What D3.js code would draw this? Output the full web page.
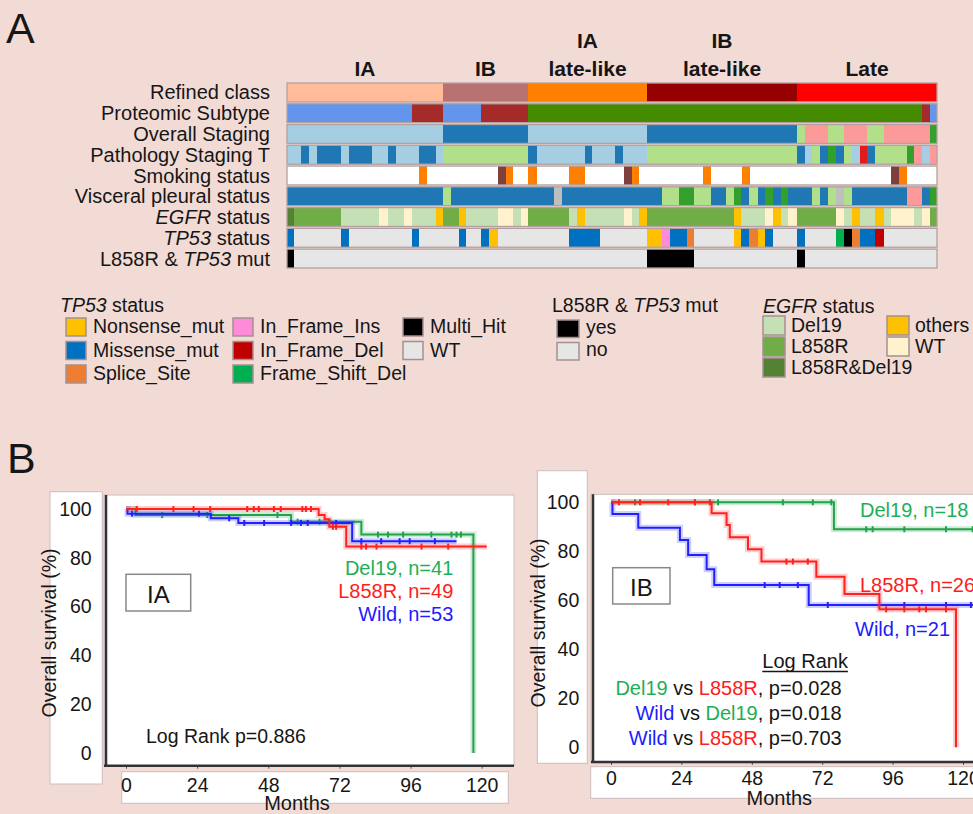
<!DOCTYPE html>
<html>
<head>
<meta charset="utf-8">
<script src="https://cdn.jsdelivr.net/npm/d3@7"></script>
<style>
  body { margin: 0; background: #f2dbd5; }
  svg { display: block; font-family: "Liberation Sans", Arial, sans-serif; }
</style>
</head>
<body>
<div id="chart"></div>
<script>
// ---------- panel A: heatmap rows, run-length encoded as [category, columns]
const rowLabels = ["Refined class", "Proteomic Subtype", "Overall Staging", "Pathology Staging T",
  "Smoking status", "Visceral pleural status", "EGFR status", "TP53 status", "L858R & TP53 mut"];

const refinedRuns = [["IA", 156], ["IB", 85], ["IA late-like", 119], ["IB late-like", 150], ["Late", 140]];
const proteomicRuns = [["S-I", 125], ["S-II", 31], ["S-I", 38], ["S-II", 47], ["S-III", 394], ["S-II", 8], ["S-I", 7]];
const stagingRuns = [["IA", 156], ["IB", 85], ["IA", 119], ["IB", 150], ["IIA", 8], ["IIIA", 23], ["IIA", 16],
  ["IIIA", 23], ["IIA", 17], ["IIIA", 46], ["IIB", 7]];
const pathTRuns = [["T1a", 14], ["T1b", 8], ["T1a", 8], ["T1b", 24], ["T1a", 8], ["T1b", 23], ["T1a", 16], ["T1b", 8],
  ["T1a", 23], ["T1b", 17], ["T1a", 7], ["T2a", 85], ["T1b", 9], ["T1a", 48], ["T1b", 7], ["T1a", 23], ["T1b", 8],
  ["T1a", 24], ["T2a", 150], ["T1b", 8], ["T1a", 7], ["T2a", 8], ["T1b", 8], ["T2b", 8], ["T1b", 8], ["T2a", 8],
  ["T1a", 8], ["T4", 7], ["T1b", 8], ["T2a", 32], ["T2b", 7], ["T3", 8], ["T1a", 8], ["T3", 7]];
const smokingRuns = [["Never", 132], ["Former", 8], ["Never", 71], ["Current", 8], ["Former", 7], ["Never", 15],
  ["Former", 9], ["Never", 32], ["Former", 16], ["Never", 39], ["Current", 8], ["Former", 7], ["Never", 64],
  ["Former", 8], ["Never", 31], ["Former", 8], ["Never", 141], ["Current", 8], ["Former", 8], ["Never", 30]];
const visceralRuns = [["PL0", 156], ["PL1", 8], ["PL0", 103], ["NA", 8], ["PL0", 100], ["PL1", 17], ["PL2", 15],
  ["PL1", 17], ["PL0", 15], ["PL1", 8], ["PL2", 7], ["PL0", 8], ["PL1", 9], ["PL0", 7], ["PL2", 8], ["PL0", 8],
  ["PL2", 7], ["PL0", 24], ["PL1", 8], ["PL0", 8], ["PL1", 8], ["NA", 8], ["PL1", 8], ["PL0", 55], ["PL3", 15],
  ["PL0", 8], ["PL2", 7]];
const egfrRuns = [["L858R&Del19", 7], ["L858R", 47], ["Del19", 38], ["WT", 9], ["Del19", 16], ["WT", 8], ["Del19", 24],
  ["others", 7], ["L858R", 16], ["others", 7], ["Del19", 32], ["WT", 15], ["Del19", 8], ["WT", 7], ["L858R", 41],
  ["Del19", 8], ["others", 8], ["Del19", 39], ["WT", 8], ["Del19", 7], ["others", 8], ["L858R", 87], ["others", 7],
  ["Del19", 24], ["WT", 8], ["others", 8], ["Del19", 7], ["WT", 9], ["L858R", 39], ["WT", 8], ["Del19", 8],
  ["others", 8], ["Del19", 15], ["others", 9], ["Del19", 7], ["WT", 23], ["Del19", 8], ["WT", 8], ["L858R", 7]];
const tp53Runs = [["Missense_mut", 7], ["WT", 47], ["Missense_mut", 8], ["WT", 63], ["Missense_mut", 7], ["WT", 40],
  ["Missense_mut", 7], ["WT", 15], ["Missense_mut", 8], ["Nonsense_mut", 9], ["WT", 71], ["Missense_mut", 31],
  ["WT", 47], ["Nonsense_mut", 15], ["In_Frame_Ins", 8], ["Missense_mut", 17], ["Splice_Site", 7], ["WT", 40],
  ["Nonsense_mut", 7], ["Missense_mut", 8], ["Splice_Site", 9], ["Nonsense_mut", 7], ["Missense_mut", 8], ["WT", 24],
  ["Missense_mut", 8], ["WT", 31], ["Frame_Shift_Del", 8], ["Multi_Hit", 8], ["Splice_Site", 8], ["Missense_mut", 15],
  ["In_Frame_Del", 9], ["WT", 53]];
const dualRuns = [["yes", 7], ["no", 353], ["yes", 47], ["no", 103], ["yes", 8], ["no", 132]];

// legend entries
const tp53Legend = ["Nonsense_mut", "Missense_mut", "Splice_Site", "In_Frame_Ins", "In_Frame_Del", "Frame_Shift_Del", "Multi_Hit", "WT"];
const dualLegend = ["yes", "no"];
const egfrLegend = ["Del19", "L858R", "L858R&Del19", "others", "WT"];

// ---------- panel B: Kaplan-Meier curves, [months, survival %]
const groupNames = ["Del19", "L858R", "Wild"];
const iaCounts = [41, 49, 53];
const ibCounts = [18, 26, 21];
const iaLogRankP = 0.886;
const ibLogRank = [["Del19", "L858R", 0.028], ["Wild", "Del19", 0.018], ["Wild", "L858R", 0.703]];
const monthTicks = [0, 24, 48, 72, 96, 120];
const survivalTicks = [0, 20, 40, 60, 80, 100];

const iaDel19 = [[0, 100], [3.2, 97.5], [55.7, 94.8], [79.4, 89.5], [117.2, 0]];
const iaDel19Censor = [12.2, 27.4, 51.1, 57.9, 65.3, 68.6, 85, 88.4, 93.5, 103, 109.8, 111.5, 113];
const iaL858R = [[0, 100], [65, 97.5], [67, 95.8], [68.6, 92.7], [74.3, 84.6], [121.7, 84.6]];
const iaL858RCensor = [3.6, 16, 22.8, 28.4, 40.9, 43.1, 44.8, 49.9, 52.2, 59.5, 60.7, 62.4, 69.8, 70.9, 79.4, 81, 84.5, 99.7, 108.7];
const iaWild = [[0, 100], [0.5, 98.1], [28.6, 96.2], [37.9, 94.3], [76.3, 86.8], [111.5, 86.8]];
const iaWildCensor = [2, 24.6, 34.8, 39.9, 46.6, 55.7, 59, 61.3, 70.9, 79.4, 86.1, 92.3, 95.7, 104.2];

const ibDel19 = [[0, 100], [76, 89], [126, 89]];
const ibDel19Censor = [8.2, 28.6, 36.5, 58.6, 68.8, 75.1, 87, 89.2, 100, 114.2, 123.3];
const ibL858R = [[0, 100], [34.3, 95.5], [39.4, 90.7], [40.5, 85.7], [46.7, 80.8], [51.3, 75.8], [70, 69.6],
  [79.6, 62.6], [91.5, 56.3], [117.6, 0]];
const ibL858RCensor = [2.7, 9.9, 19.5, 28.6, 33.7, 59.8, 62, 67.1, 93.8, 100, 105.1, 107.4, 114.2];
const ibWild = [[0, 100], [0.5, 95.2], [9.3, 89.6], [23.5, 84.6], [26.3, 78.5], [32.6, 72.7], [35.2, 66.2],
  [67.4, 58.1], [126, 58.1]];
const ibWildCensor = [52.4, 57.5, 63.7, 73.9, 100, 114.2, 122.7];

// ---------- colours
const refinedColors = { "IA": "#ffbb9a", "IB": "#b87272", "IA late-like": "#ff7f00", "IB late-like": "#960000", "Late": "#ff0000" };
const proteomicColors = { "S-I": "#6495ed", "S-II": "#a52a2a", "S-III": "#458b00" };
const stageColors = { IA: "#a6cee3", IB: "#1f78b4", IIA: "#b2df8a", IIB: "#33a02c", IIIA: "#fb9a99" };
const pathTColors = { T1a: "#a6cee3", T1b: "#1f78b4", T2a: "#b2df8a", T2b: "#33a02c", T3: "#fb9a99", T4: "#e31a1c" };
const smokingColors = { Never: "#ffffff", Former: "#ff7f00", Current: "#7f3f3f" };
const visceralColors = { PL0: "#1f78b4", PL1: "#b2df8a", PL2: "#33a02c", PL3: "#fb9a99", NA: "#bebebe" };
const egfrColors = { "Del19": "#c5e0b4", "L858R": "#70ad47", "L858R&Del19": "#548235", "others": "#ffc000", "WT": "#fff2cc" };
const tp53Colors = { "Nonsense_mut": "#ffc000", "Missense_mut": "#0070c0", "Splice_Site": "#ed7d31", "In_Frame_Ins": "#ff8ad8",
  "In_Frame_Del": "#c00000", "Frame_Shift_Del": "#00b050", "Multi_Hit": "#000000", "WT": "#e6e6e6" };
const dualColors = { yes: "#000000", no: "#e6e6e6" };
const lineColors = { Del19: "#22a34a", L858R: "#ff2020", Wild: "#2020ff" };
const textColors = { Del19: "#1fae55", L858R: "#ff1c1c", Wild: "#1c1cff" };

const rows = [
  [refinedRuns, refinedColors], [proteomicRuns, proteomicColors], [stagingRuns, stageColors],
  [pathTRuns, pathTColors], [smokingRuns, smokingColors], [visceralRuns, visceralColors],
  [egfrRuns, egfrColors], [tp53Runs, tp53Colors], [dualRuns, dualColors]
];

const width = 973, height = 814;
const ink = "#161616";
const svg = d3.select("#chart").append("svg").attr("width", width).attr("height", height);
svg.append("rect").attr("width", width).attr("height", height).attr("fill", "#f2dbd5");

// italic gene names inside a label
function richText(sel, str) {
  str.split(/(EGFR|TP53)/).filter(s => s).forEach(s => {
    sel.append("tspan").text(s).attr("font-style", /^(EGFR|TP53)$/.test(s) ? "italic" : null);
  });
}

// panel letters
svg.append("text").attr("x", 6).attr("y", 43).attr("font-size", 43).attr("fill", ink).text("A");
svg.append("text").attr("x", 7).attr("y", 473).attr("font-size", 43).attr("fill", ink).text("B");

// ---------- heatmap
const hx = d3.scaleLinear().domain([0, d3.sum(refinedRuns, d => d[1])]).range([287, 937]);
const hy = d3.scaleBand().domain(rowLabels).range([83, 268]).paddingInner(0.09);

function withStarts(runs) {
  let acc = 0;
  return runs.map(([cat, n]) => { const r = { cat, start: acc, end: acc + n }; acc += n; return r; });
}

rows.forEach(([runs, colors], i) => {
  const g = svg.append("g").attr("transform", `translate(0,${hy(rowLabels[i])})`);
  g.selectAll("rect.cell")
    .data(withStarts(runs))
    .join("rect")
    .attr("class", "cell")
    .attr("x", d => hx(d.start))
    .attr("width", d => hx(d.end) - hx(d.start))
    .attr("height", hy.bandwidth())
    .attr("fill", d => colors[d.cat]);
  g.append("rect")
    .attr("x", hx(0)).attr("width", hx.range()[1] - hx(0)).attr("height", hy.bandwidth())
    .attr("fill", "none").attr("stroke", "#b3a0a0").attr("stroke-width", 1.3);
});

// row labels
svg.selectAll("text.rowlab")
  .data(rowLabels)
  .join("text")
  .attr("class", "rowlab")
  .attr("x", 270)
  .attr("y", d => hy(d) + hy.bandwidth() / 2 + 7)
  .attr("text-anchor", "end")
  .attr("font-size", 20)
  .attr("fill", ink)
  .each(function (d) { richText(d3.select(this), d); });

// class headers over the refined class row
withStarts(refinedRuns).forEach(d => {
  const lines = d.cat.split(" ");
  const cx = hx((d.start + d.end) / 2);
  lines.forEach((ln, j) => {
    svg.append("text")
      .attr("x", cx)
      .attr("y", 76 - (lines.length - 1 - j) * 28.5)
      .attr("text-anchor", "middle")
      .attr("font-size", 21).attr("font-weight", "bold").attr("fill", ink)
      .text(ln);
  });
});

// ---------- legends
function legendBlock(title, tx, ty, items, colors, cols, sw, sh, step, textDx, textDy) {
  const g = svg.append("g");
  const t = g.append("text").attr("x", tx).attr("y", ty).attr("font-size", 19.5).attr("fill", ink);
  richText(t, title);
  cols.forEach(([cx, top, names]) => {
    names.forEach((name, k) => {
      g.append("rect")
        .attr("x", cx).attr("y", top + k * step).attr("width", sw).attr("height", sh)
        .attr("fill", colors[name]).attr("stroke", "#a39191").attr("stroke-width", 1.5);
      g.append("text")
        .attr("x", cx + textDx).attr("y", top + k * step + textDy)
        .attr("font-size", 19.5).attr("fill", ink).text(name);
    });
  });
}

legendBlock("TP53 status", 60, 312, tp53Legend, tp53Colors,
  [[66, 318, tp53Legend.slice(0, 3)], [233, 318, tp53Legend.slice(3, 6)], [403, 318, tp53Legend.slice(6)]],
  20, 18, 23.5, 27, 15);
legendBlock("L858R & TP53 mut", 552, 312, dualLegend, dualColors,
  [[557, 320, dualLegend]], 22, 17.5, 22.5, 29, 13.5);
legendBlock("EGFR status", 763, 313, egfrLegend, egfrColors,
  [[763, 316, egfrLegend.slice(0, 3)], [887, 316, egfrLegend.slice(3)]],
  22, 19, 21, 28, 16);

// ---------- Kaplan-Meier panels
function survivalAt(steps, t) {
  let s = steps[0][1];
  steps.forEach(([m, v]) => { if (m <= t) s = v; });
  return s;
}

function drawKM(cfg) {
  const x = d3.scaleLinear().domain([0, 120]).range(cfg.xRange);
  const y = d3.scaleLinear().domain([0, 100]).range(cfg.yRange);
  const g = svg.append("g");

  // white panels
  [cfg.labelBox, cfg.plotBox, cfg.tickBox].forEach(b => {
    g.append("rect").attr("x", b[0]).attr("y", b[1]).attr("width", b[2]).attr("height", b[3])
      .attr("fill", "#fff").attr("stroke", "#cbbcbc").attr("stroke-width", 1);
  });

  // axes
  const yAxis = g.append("g").attr("transform", `translate(${cfg.axisX},0)`)
    .call(d3.axisLeft(y).tickValues(survivalTicks).tickSize(0).tickPadding(cfg.axisX - cfg.yLabelX));
  const xAxis = g.append("g").attr("transform", `translate(0,${cfg.axisY})`)
    .call(d3.axisBottom(x).tickValues(monthTicks).tickSize(3)
      .tickPadding(cfg.tickBaseline - cfg.axisY - 3 - 0.71 * 19.5));
  [yAxis, xAxis].forEach(a => {
    a.select(".domain").remove();
    a.selectAll("text").attr("font-size", 19.5).attr("fill", ink).attr("font-family", null);
    a.selectAll("line").attr("stroke", "#555");
  });
  g.append("line").attr("x1", cfg.axisX).attr("x2", cfg.axisX)
    .attr("y1", cfg.plotBox[1]).attr("y2", cfg.axisY)
    .attr("stroke", "#333").attr("stroke-width", 2.5);
  g.append("line").attr("x1", cfg.plotBox[0]).attr("x2", cfg.plotBox[0] + cfg.plotBox[2])
    .attr("y1", cfg.axisY).attr("y2", cfg.axisY)
    .attr("stroke", "#333").attr("stroke-width", 2.5);

  g.append("text")
    .attr("transform", `translate(${cfg.yTitle[0]},${cfg.yTitle[1]}) rotate(-90)`)
    .attr("text-anchor", "middle").attr("font-size", 19.5).attr("fill", ink)
    .text("Overall survival (%)");
  g.append("text").attr("x", cfg.monthsPos[0]).attr("y", cfg.monthsPos[1])
    .attr("text-anchor", "middle").attr("font-size", 20).attr("fill", ink).text("Months");

  // curves
  const line = d3.line().x(d => x(d[0])).y(d => y(d[1])).curve(d3.curveStepAfter);
  cfg.curves.forEach(([name, steps, censor]) => {
    const c = lineColors[name];
    g.append("path").attr("d", line(steps)).attr("fill", "none")
      .attr("stroke", c).attr("stroke-opacity", 0.22).attr("stroke-width", 6);
    g.append("path").attr("d", line(steps)).attr("fill", "none")
      .attr("stroke", c).attr("stroke-width", 2);
    g.selectAll(null).data(censor).join("line")
      .attr("x1", d => x(d)).attr("x2", d => x(d))
      .attr("y1", d => y(survivalAt(steps, d)) - 3)
      .attr("y2", d => y(survivalAt(steps, d)) + 3)
      .attr("stroke", c).attr("stroke-width", 2);
  });

  // stage tag
  const b = cfg.tagBox;
  g.append("rect").attr("x", b[0]).attr("y", b[1]).attr("width", b[2]).attr("height", b[3])
    .attr("fill", "#fff").attr("stroke", "#888").attr("stroke-width", 1.5);
  g.append("text").attr("x", b[0] + b[2] / 2).attr("y", b[1] + b[3] - 8)
    .attr("text-anchor", "middle").attr("font-size", 24).attr("fill", ink).text(cfg.tag);

  // group counts
  groupNames.forEach((name, k) => {
    const p = cfg.countPos[k];
    g.append("text").attr("x", p[0]).attr("y", p[1]).attr("text-anchor", cfg.countAnchor)
      .attr("font-size", 20).attr("fill", textColors[name])
      .text(`${name}, n=${cfg.counts[k]}`);
  });
  return g;
}

const gA = drawKM({
  xRange: [126, 481.7], yRange: [753, 509],
  labelBox: [50, 491.7, 52.3, 292.3], plotBox: [104, 495, 410, 270.7], tickBox: [121.7, 771.7, 386.6, 31.6],
  axisX: 106, axisY: 765.7, yLabelX: 91.7, tickBaseline: 791.7,
  yTitle: [56, 633], monthsPos: [297, 810],
  curves: [["Del19", iaDel19, iaDel19Censor], ["Wild", iaWild, iaWildCensor], ["L858R", iaL858R, iaL858RCensor]],
  tagBox: [126, 574.3, 64.7, 36.7], tag: "IA",
  counts: iaCounts, countAnchor: "end", countPos: [[453.3, 575], [453.3, 598.3], [453.3, 620.7]]
});
gA.append("text").attr("x", 146).attr("y", 743.3).attr("font-size", 19.5).attr("fill", ink)
  .text(`Log Rank p=${d3.format(".3f")(iaLogRankP)}`);

const gB = drawKM({
  xRange: [611, 963], yRange: [747.3, 502.3],
  labelBox: [537.3, 470.7, 50, 292.6], plotBox: [591, 494.3, 400, 268.4], tickBox: [590.7, 766.7, 400, 31.6],
  axisX: 593, axisY: 762, yLabelX: 579.3, tickBaseline: 785,
  yTitle: [545, 623], monthsPos: [779.3, 805],
  curves: [["Del19", ibDel19, ibDel19Censor], ["Wild", ibWild, ibWildCensor], ["L858R", ibL858R, ibL858RCensor]],
  tagBox: [612.7, 567.7, 57.3, 36.3], tag: "IB",
  counts: ibCounts, countAnchor: "start", countPos: [[860, 517.3], [860, 591.7], [855, 636]]
});

const lr = gB.append("text").attr("x", 762.3).attr("y", 668.3).attr("font-size", 20).attr("fill", ink).text("Log Rank");
const lrW = lr.node().getComputedTextLength();
gB.append("line").attr("x1", 762.3).attr("x2", 762.3 + lrW).attr("y1", 671.5).attr("y2", 671.5)
  .attr("stroke", ink).attr("stroke-width", 1.3);

ibLogRank.forEach(([a, b, p], k) => {
  const t = gB.append("text").attr("x", 841.7).attr("y", 695 + k * 25)
    .attr("text-anchor", "end").attr("font-size", 20).attr("fill", ink);
  t.append("tspan").attr("fill", textColors[a]).text(a);
  t.append("tspan").text(" vs ");
  t.append("tspan").attr("fill", textColors[b]).text(b);
  t.append("tspan").text(`, p=${d3.format(".3f")(p)}`);
});
</script>
</body>
</html>
